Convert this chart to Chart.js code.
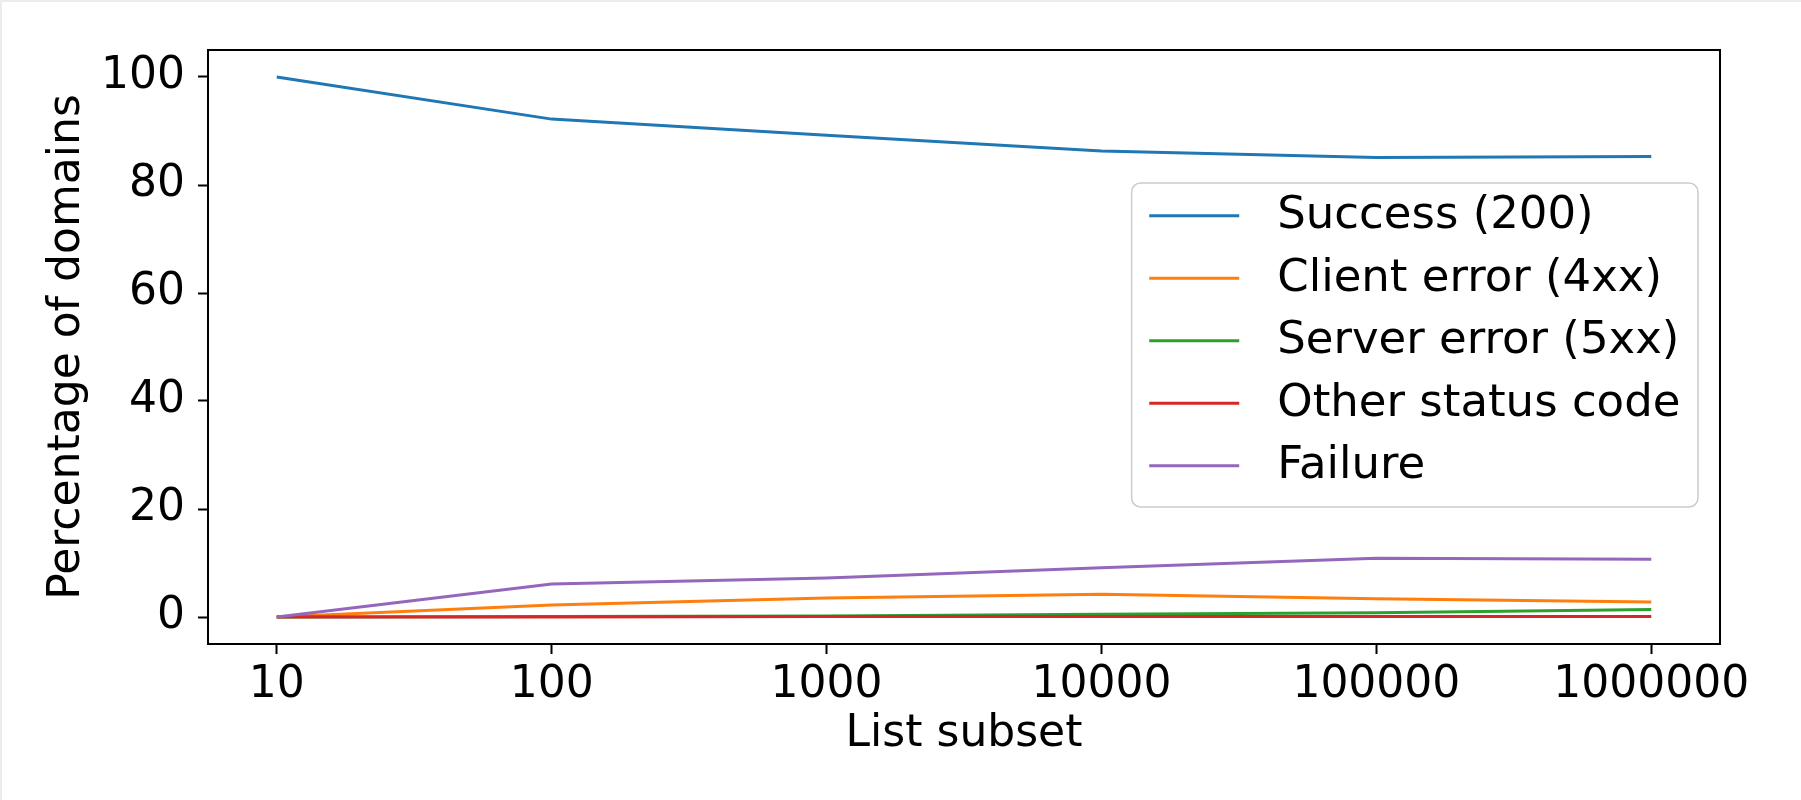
<!DOCTYPE html>
<html>
<head>
<meta charset="utf-8">
<script src="https://cdn.jsdelivr.net/npm/chart.js@4"></script>
<style>
  html, body { margin: 0; padding: 0; background: #fff; }
  #wrap { width: 1801px; height: 800px; position: relative; }
</style>
</head>
<body>
<div id="wrap"><canvas id="myChart"></canvas></div>
<script>
// list subsets (x axis)
const subsets = [10, 100, 1000, 10000, 100000, 1000000];
const yTicks = [0, 20, 40, 60, 80, 100];

const seriesNames = [
  "Success (200)",
  "Client error (4xx)",
  "Server error (5xx)",
  "Other status code",
  "Failure",
];
const success = [100, 92.2, 89.2, 86.3, 85.1, 85.3];
const clientError = [0, 2.2, 3.5, 4.2, 3.4, 2.8];
const serverError = [0, 0.1, 0.2, 0.5, 0.8, 1.4];
const otherStatus = [0, 0, 0.1, 0.1, 0.1, 0.1];
const failure = [0, 6.1, 7.2, 9.1, 10.9, 10.7];

const colors = ["#1f77b4", "#ff7f0e", "#2ca02c", "#d62728", "#9467bd"];
const allSeries = [success, clientError, serverError, otherStatus, failure];

const FONT = "'DejaVu Sans', 'Liberation Sans', sans-serif";

const datasets = allSeries.map((vals, i) => ({
  label: seriesNames[i],
  data: vals.map((v, j) => ({ x: subsets[j], y: v })),
  borderColor: colors[i],
  backgroundColor: colors[i],
  borderWidth: 3,
  pointRadius: 0,
  tension: 0,
  fill: false,
  order: allSeries.length - i, // later series on top, like matplotlib
}));

// white background, faint page frame, top/right spines
const framePlugin = {
  id: "frame",
  beforeDraw(chart) {
    const ctx = chart.ctx;
    ctx.save();
    ctx.fillStyle = "#fff";
    ctx.fillRect(0, 0, chart.width, chart.height);
    ctx.fillStyle = "#ececec";
    ctx.fillRect(0, 0, 2, chart.height);
    ctx.fillRect(0, 0, chart.width, 2);
    ctx.restore();
  },
  afterDraw(chart) {
    const { ctx, chartArea } = chart;
    ctx.save();
    ctx.strokeStyle = "#000";
    ctx.lineWidth = 2;
    ctx.beginPath();
    ctx.moveTo(chartArea.left, chartArea.top);
    ctx.lineTo(chartArea.right, chartArea.top);
    ctx.lineTo(chartArea.right, chartArea.bottom);
    ctx.stroke();
    ctx.restore();
  },
};

// matplotlib-like legend, "center right" inside the axes
const legendPlugin = {
  id: "mplLegend",
  afterDraw(chart) {
    const { ctx, chartArea } = chart;
    const items = chart.data.datasets;
    ctx.save();
    ctx.font = "45px " + FONT;
    let textW = 0;
    items.forEach((d) => {
      textW = Math.max(textW, ctx.measureText(d.label).width);
    });
    const pad = 17.6;
    const handle = 90;
    const gap = 38;
    const rowH = 62.5;
    const boxW = pad + handle + gap + textW + pad;
    const boxH = 324;
    const right = chartArea.right - 22;
    const left = right - boxW;
    const top = (chartArea.top + chartArea.bottom) / 2 - boxH / 2 - 2;

    ctx.fillStyle = "rgba(255,255,255,0.8)";
    ctx.strokeStyle = "#cccccc";
    ctx.lineWidth = 1.5;
    ctx.beginPath();
    ctx.roundRect(left, top, boxW, boxH, 9);
    ctx.fill();
    ctx.stroke();

    ctx.textBaseline = "middle";
    ctx.textAlign = "left";
    items.forEach((d, i) => {
      const y = top + 32.7 + i * rowH;
      ctx.strokeStyle = d.borderColor;
      ctx.lineWidth = 3;
      ctx.beginPath();
      ctx.moveTo(left + pad, y);
      ctx.lineTo(left + pad + handle, y);
      ctx.stroke();
      ctx.fillStyle = "#000";
      ctx.fillText(d.label, left + pad + handle + gap, y + 1);
    });
    ctx.restore();
  },
};

new Chart(document.getElementById("myChart").getContext("2d"), {
  type: "line",
  data: { datasets },
  options: {
    responsive: true,
    maintainAspectRatio: false,
    animation: false,
    layout: { padding: { left: 0, top: 50, right: 81, bottom: 0 } },
    plugins: {
      legend: { display: false },
      tooltip: { enabled: false },
    },
    scales: {
      x: {
        type: "logarithmic",
        min: Math.pow(10, 0.75),
        max: Math.pow(10, 6.25),
        afterBuildTicks: (axis) => {
          axis.ticks = subsets.map((v) => ({ value: v }));
        },
        afterFit: (axis) => {
          axis.height = 156;
        },
        grid: {
          display: true,
          drawOnChartArea: false,
          drawTicks: true,
          tickLength: 10,
          tickWidth: 2,
          tickColor: "#000",
        },
        border: { display: true, color: "#000", width: 2 },
        ticks: {
          color: "#000",
          font: { family: FONT, size: 44 },
          padding: 5,
          maxRotation: 0,
          autoSkip: false,
          callback: (v) => String(v),
        },
        title: {
          display: true,
          text: "List subset",
          color: "#000",
          font: { family: FONT, size: 44 },
          padding: { top: 0, bottom: 39 },
        },
      },
      y: {
        type: "linear",
        min: -5,
        max: 105,
        afterBuildTicks: (axis) => {
          axis.ticks = yTicks.map((v) => ({ value: v }));
        },
        afterFit: (axis) => {
          axis.width = 208;
        },
        grid: {
          display: true,
          drawOnChartArea: false,
          drawTicks: true,
          tickLength: 10,
          tickWidth: 2,
          tickColor: "#000",
        },
        border: { display: true, color: "#000", width: 2 },
        ticks: {
          color: "#000",
          font: { family: FONT, size: 44 },
          padding: 13,
        },
        title: {
          display: true,
          text: "Percentage of domains",
          color: "#000",
          font: { family: FONT, size: 44 },
          padding: { top: 41, bottom: 0 },
        },
      },
    },
  },
  plugins: [framePlugin, legendPlugin],
});
</script>
</body>
</html>
